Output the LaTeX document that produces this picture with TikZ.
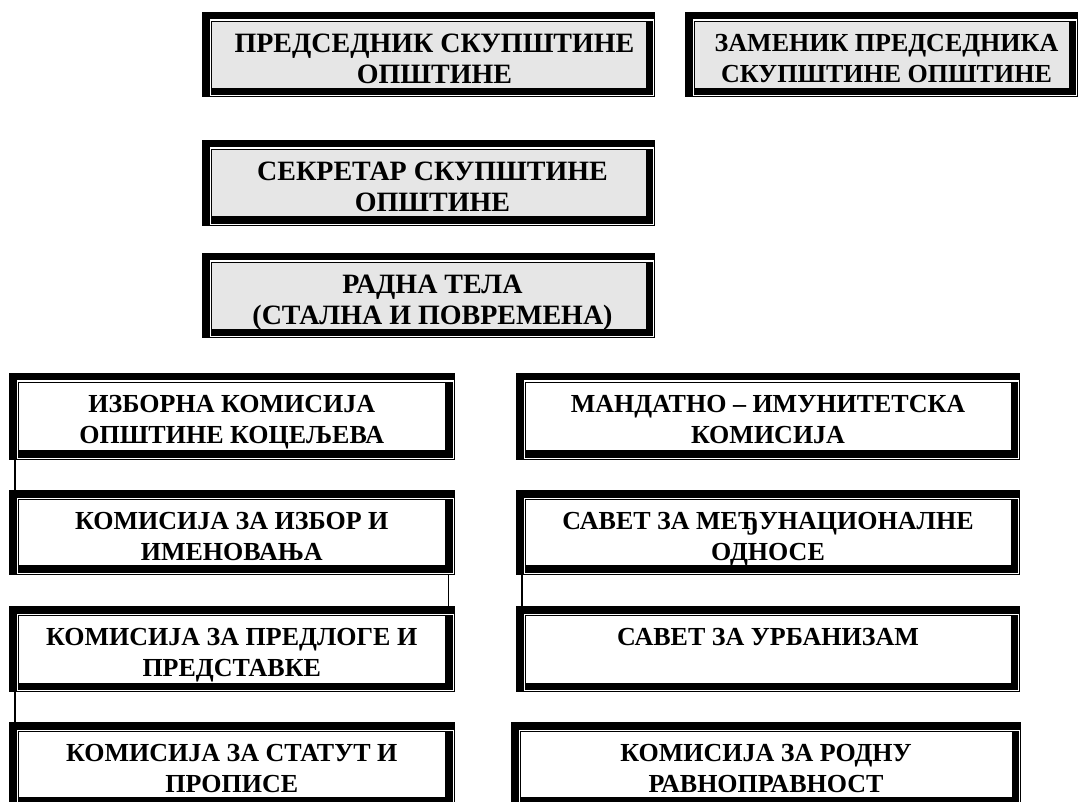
\documentclass[tikz,border=0pt]{standalone}
\usepackage{fontspec}
\setmainfont{Liberation Serif}
\usetikzlibrary{calc}
\definecolor{panelgray}{RGB}{230,230,230}
\begin{document}
\begin{tikzpicture}[x=1pt, y=-1pt, line join=miter,
	box/.style={rectangle, inner sep=0pt, outer sep=0pt, minimum width=#1},
	box/.default=445.5,
	lbl/.style={anchor=north, inner sep=0pt, align=center, font=\fontsize{26}{31}\selectfont\bfseries},
	biglbl/.style={lbl, font=\fontsize{28}{30.5}\selectfont\bfseries},
	link/.style={line width=1.5pt}]
	\useasboundingbox (0,0) rectangle (1080,802);
	% top boxes
	\node[box=453, minimum height=85.5] (pred) at (428.5,54.75) {};
	\node[box=393, minimum height=85.5] (zam) at (881.5,54.75) {};
	\node[box=453, minimum height=86] (sek) at (428.5,183) {};
	\node[box=453, minimum height=85.5] (rad) at (428.5,295.75) {};
	% left column
	\node[box, minimum height=87] (izb) at (231.75,416.5) {};
	\node[box, minimum height=84.5] (izbor) at (231.75,532.25) {};
	\node[box, minimum height=86] (predl) at (231.75,649) {};
	\node[box, minimum height=84] (stat) at (231.75,764) {};
	% right column
	\node[box=504, minimum height=87] (mand) at (768,416.5) {};
	\node[box=504, minimum height=84.5] (savet) at (768,532.25) {};
	\node[box=504, minimum height=86] (urb) at (768,649) {};
	\node[box=510, minimum height=84] (rod) at (766,764) {};
	% double frames
	\foreach \n/\c in {pred/panelgray, zam/panelgray, sek/panelgray, rad/panelgray,
		izb/white, izbor/white, predl/white, stat/white,
		mand/white, savet/white, urb/white, rod/white}
	{
		\fill[\c] ($(\n.north west)+(9,9)$) rectangle ($(\n.south east)+(-2,-2)$);
		\fill (\n.north west) rectangle ($(\n.north east)+(0,7.5)$);
		\fill (\n.north west) rectangle ($(\n.south west)+(7.5,0)$);
		\draw[line width=1pt] ($(\n.south west)+(7.5,-0.5)$) -- ($(\n.south east)+(-0.5,-0.5)$) -- ($(\n.north east)+(-0.5,7.5)$);
		\draw[line width=1pt] ($(\n.south west)+(9.5,-2)$) -- ($(\n.north west)+(9.5,9.5)$) -- ($(\n.north east)+(-2,9.5)$);
		\fill ($(\n.north east)+(-9.5,9)$) rectangle ($(\n.south east)+(-2,-2)$);
		\fill ($(\n.south west)+(9,-9.5)$) rectangle ($(\n.south east)+(-2,-2)$);
	}
	% texts
	\node[biglbl] (pred-t) at ($(pred.north)+(6,22)$) {ПРЕДСЕДНИК СКУПШТИНЕ\\ОПШТИНЕ};
	\node[lbl] (zam-t) at ($(zam.north)+(5,22)$) {ЗАМЕНИК ПРЕДСЕДНИКА\\СКУПШТИНЕ ОПШТИНЕ};
	\node[biglbl] (sek-t) at ($(sek.north)+(4,22)$) {СЕКРЕТАР СКУПШТИНЕ\\ОПШТИНЕ};
	\node[biglbl] (rad-t) at ($(rad.north)+(4,22)$) {РАДНА ТЕЛА\\(СТАЛНА И ПОВРЕМЕНА)};
	\node[lbl] (izb-t) at ($(izb.north)+(0,22)$) {ИЗБОРНА КОМИСИЈА\\ОПШТИНЕ КОЦЕЉЕВА};
	\node[lbl] (izbor-t) at ($(izbor.north)+(0,22)$) {КОМИСИЈА ЗА ИЗБОР И\\ИМЕНОВАЊА};
	\node[lbl] (predl-t) at ($(predl.north)+(0,22)$) {КОМИСИЈА ЗА ПРЕДЛОГЕ И\\ПРЕДСТАВКЕ};
	\node[lbl] (stat-t) at ($(stat.north)+(0,22)$) {КОМИСИЈА ЗА СТАТУТ И\\ПРОПИСЕ};
	\node[lbl] (mand-t) at ($(mand.north)+(0,22)$) {МАНДАТНО – ИМУНИТЕТСКА\\КОМИСИЈА};
	\node[lbl] (savet-t) at ($(savet.north)+(0,22)$) {САВЕТ ЗА МЕЂУНАЦИОНАЛНЕ\\ОДНОСЕ};
	\node[lbl] (urb-t) at ($(urb.north)+(0,22)$) {САВЕТ ЗА УРБАНИЗАМ};
	\node[lbl] (rod-t) at ($(rod.north)+(0,22)$) {КОМИСИЈА ЗА РОДНУ\\РАВНОПРАВНОСТ};
	% connectors
	\draw[link] ($(izb.south west)+(6,0)$) -- ($(izbor.north west)+(6,0)$);
	\draw[link] ($(izbor.south east)+(-6,0)$) -- ($(predl.north east)+(-6,0)$);
	\draw[link] ($(predl.south west)+(6,0)$) -- ($(stat.north west)+(6,0)$);
	\draw[link] ($(savet.south west)+(6,0)$) -- ($(urb.north west)+(6,0)$);
\end{tikzpicture}
\end{document}
